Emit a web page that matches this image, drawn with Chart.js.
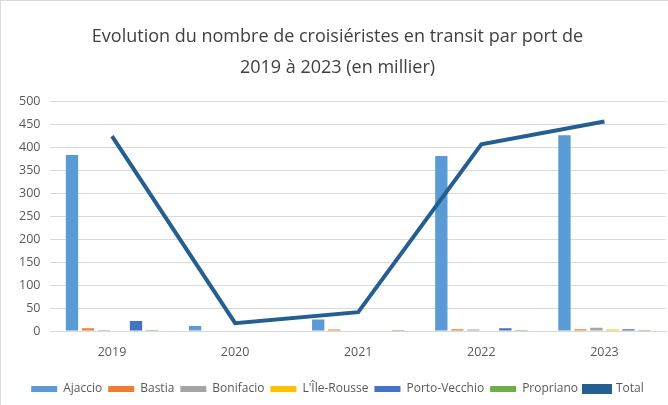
<!DOCTYPE html>
<html>
<head>
<meta charset="utf-8">
<script src="https://cdn.jsdelivr.net/npm/chart.js@4"></script>
<style>
  html, body { margin: 0; padding: 0; background: #ffffff; }
  #wrap { position: relative; width: 668px; height: 405px; box-sizing: border-box;
          border-left: 1px solid #d9d9d9; border-top: 1px solid #d9d9d9; }
</style>
</head>
<body>
<div id="wrap"><canvas id="portChart"></canvas></div>
<script>
document.addEventListener("DOMContentLoaded", function () {
    const ctx = document.getElementById('portChart').getContext('2d');

    // Années et valeurs (en milliers)
    const annees = ['2019', '2020', '2021', '2022', '2023'];
    const ajaccio = [383, 11, 25, 381, 426];
    const bastia = [6, 0, 3, 4, 4];
    const bonifacio = [2, 0, 1, 3, 7];
    const ileRousse = [1, 0, 1, 1, 3];
    const portoVecchio = [22, 0, 0, 6, 4];
    const propriano = [2, 0, 2, 2, 2];
    const total = [424, 17, 41, 406, 456];
    const yTicks = [0, 50, 100, 150, 200, 250, 300, 350, 400, 450, 500];

    const police = "'Open Sans', 'Liberation Sans', sans-serif";

    function barre(label, data, couleur) {
        return {
            type: 'bar',
            label: label,
            data: data,
            backgroundColor: couleur,
            barPercentage: 0.77,
            categoryPercentage: 0.78,
            order: 2
        };
    }

    new Chart(ctx, {
        data: {
            labels: annees,
            datasets: [
                barre('Ajaccio', ajaccio, '#5B9BD5'),
                barre('Bastia', bastia, '#ED7D31'),
                barre('Bonifacio', bonifacio, '#A5A5A5'),
                barre("L'Île-Rousse", ileRousse, '#FFC000'),
                barre('Porto-Vecchio', portoVecchio, '#4472C4'),
                barre('Propriano', propriano, '#70AD47'),
                {
                    type: 'line',
                    label: 'Total',
                    data: total,
                    borderColor: '#255E91',
                    backgroundColor: '#255E91',
                    borderWidth: 4,
                    pointRadius: 0,
                    tension: 0,
                    order: 1
                }
            ]
        },
        options: {
            responsive: true,
            maintainAspectRatio: false,
            animation: false,
            layout: { padding: { left: 8, right: 2, top: 4, bottom: 0 } },
            plugins: {
                title: {
                    display: true,
                    text: ['Evolution du nombre de croisiéristes en transit par port de', '2019 à 2023 (en millier)'],
                    color: '#404040',
                    font: { family: police, size: 18, weight: 'normal', lineHeight: 1.7 },
                    padding: { top: 17, bottom: 18 }
                },
                legend: {
                    position: 'bottom',
                    labels: {
                        color: '#595959',
                        font: { family: police, size: 12 },
                        boxWidth: 26,
                        boxHeight: 6,
                        padding: 6,
                        sort: (a, b) => a.datasetIndex - b.datasetIndex
                    }
                },
                tooltip: { enabled: false }
            },
            scales: {
                x: {
                    grid: { display: false },
                    border: { color: '#d9d9d9' },
                    ticks: { color: '#595959', font: { family: police, size: 12.5 }, padding: 6 },
                    afterFit: function (axis) { axis.height += 11; }
                },
                y: {
                    min: 0,
                    max: 500,
                    afterBuildTicks: function (axis) {
                        axis.ticks = yTicks.map(v => ({ value: v }));
                    },
                    grid: { color: '#d9d9d9', drawTicks: false },
                    border: { display: false },
                    ticks: { color: '#595959', font: { family: police, size: 12.5 }, padding: 10 }
                }
            }
        }
    });
});
</script>
</body>
</html>
